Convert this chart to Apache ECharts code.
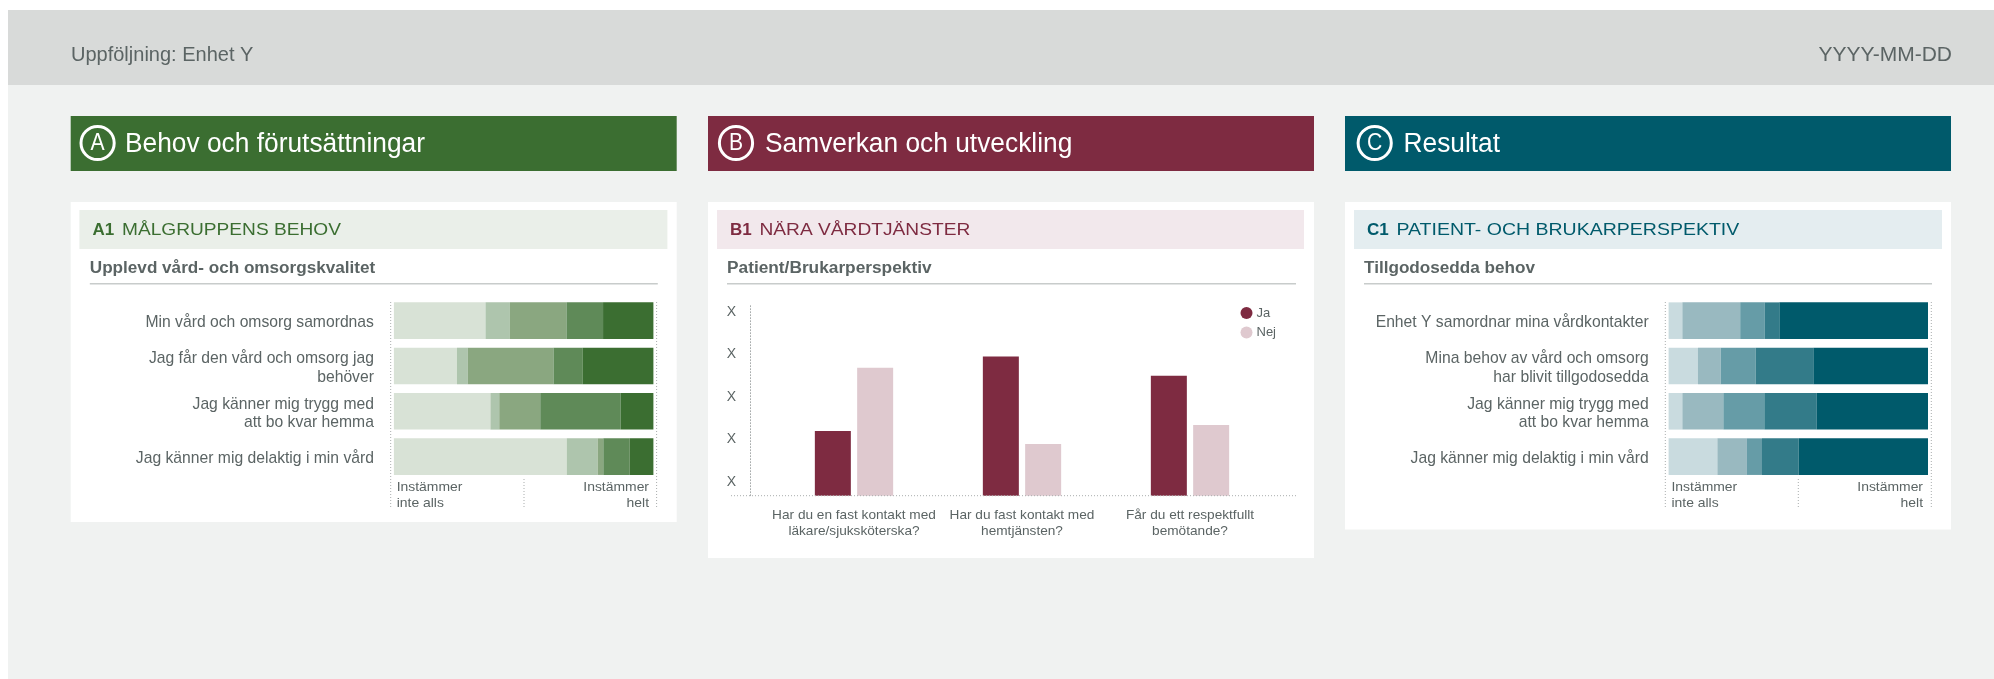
<!DOCTYPE html>
<html><head><meta charset="utf-8">
<style>html,body{margin:0;padding:0;background:#fff}#c{width:1994px;height:679px}</style>
<script src="https://cdn.jsdelivr.net/npm/echarts@6/dist/echarts.min.js"></script>
</head><body><div id="c"></div>
<script>
const aCategories = ['Min vård och omsorg samordnas','Jag får den vård och omsorg jag\nbehöver','Jag känner mig trygg med\natt bo kvar hemma','Jag känner mig delaktig i min vård'];
const aSeries1 = [35.3,24.3,37.2,66.6];
const aSeries2 = [9.4,4.2,3.4,11.9];
const aSeries3 = [21.8,33.0,15.8,2.2];
const aSeries4 = [14.1,11.3,31.0,10.1];
const aSeries5 = [19.4,27.2,12.6,9.2];
const aColors = ['#d8e2d6','#aec5ad','#8aa780','#5f8a58','#3b6e31'];

const cCategories = ['Enhet Y samordnar mina vårdkontakter','Mina behov av vård och omsorg\nhar blivit tillgodosedda','Jag känner mig trygg med\natt bo kvar hemma','Jag känner mig delaktig i min vård'];
const cSeries1 = [5.3,11.3,5.3,18.8];
const cSeries2 = [22.3,8.8,15.8,11.4];
const cSeries3 = [9.5,13.5,15.8,5.8];
const cSeries4 = [5.6,22.2,20.1,14.1];
const cSeries5 = [57.3,44.2,43.0,49.9];
const cColors = ['#c9dbdf','#99b9c0','#669ca7','#337b89','#005a6b'];

const bCategories = ['Har du en fast kontakt med\nläkare/sjuksköterska?','Har du fast kontakt med\nhemtjänsten?','Får du ett respektfullt\nbemötande?'];
const bJa = [30.4,65.3,56.3];
const bNej = [60.1,24.3,33.2];
const bTickValues = [0,20,40,60,80];
const bTickLabels = ['X','X','X','X','X'];
const bColors = ['#7e2b41','#dfc9cf'];

const FONT = '"Liberation Sans", Arial, sans-serif';
const GREY = '#5b6464';
const DOT = '#a9adad';

function rect(x,y,w,h,fill,z){return {type:'rect',shape:{x,y,width:w,height:h},style:{fill},z:z||0,silent:true};}
function txt(x,y,text,size,fill,o){o=o||{};return {type:'text',x,y,scaleX:o.sx||1,z:5,silent:true,style:{text,fill,font:(o.w||'normal')+' '+size+'px '+FONT,textAlign:o.a||'left',textVerticalAlign:'middle',verticalAlign:'middle',align:o.a||'left'}};}
function vdot(x,y1,y2){return {type:'line',shape:{x1:x,y1,x2:x,y2},z:4,silent:true,style:{stroke:DOT,lineWidth:1,lineDash:[1,2]}};}
function hdot(x1,x2,y){return {type:'line',shape:{x1,y1:y,x2,y2:y},z:4,silent:true,style:{stroke:DOT,lineWidth:1,lineDash:[1,2]}};}

const g = [
  rect(8,10,1986,669,'#f0f2f1'),
  rect(8,10,1986,75,'#d8dad9',1),
  txt(71,55,'Uppföljning: Enhet Y',20,GREY),
  txt(1952,55,'YYYY-MM-DD',21,GREY,{a:'right'}),
];
function panel(o){
  g.push(rect(o.x,116,o.w,55,o.col,1));
  g.push({type:'circle',shape:{cx:o.cx,cy:143,r:16.6},z:5,silent:true,style:{fill:'none',stroke:'#fff',lineWidth:3}});
  g.push(txt(o.cx,144,o.letter,23,'#fff',{a:'center',sx:0.92}));
  g.push(txt(o.tx,144.5,o.title,27,'#fff',{sx:0.975}));
  g.push(rect(o.x,202,o.w,o.cardB-202,'#fff',1));
  g.push(rect(o.hx,210,o.hw,39,o.light,2));
  g.push(txt(o.hx+13,230,o.code,17,o.col,{w:'bold'}));
  g.push(txt(o.ht,230,o.head,17,o.col,{sx:o.hs}));
  g.push(txt(o.sx,269,o.sub,16,GREY,{w:'bold',sx:o.ss}));
  g.push(rect(o.sx,283,o.lw,1.6,'#c8cccb',2));
}
panel({x:70.7,w:606,cardB:522,col:'#3b6e31',light:'#eaefe9',cx:97.6,tx:125,letter:'A',title:'Behov och förutsättningar',hx:79.4,hw:588,code:'A1',ht:122,head:'MÅLGRUPPENS BEHOV',hs:1.125,sx:89.8,sub:'Upplevd vård- och omsorgskvalitet',ss:1.07,lw:568});
panel({x:708,w:606,cardB:558,col:'#7e2b41',light:'#f2e8ec',cx:736,tx:765,letter:'B',title:'Samverkan och utveckling',hx:717,hw:587,code:'B1',ht:759.5,head:'NÄRA VÅRDTJÄNSTER',hs:1.127,sx:727,sub:'Patient/Brukarperspektiv',ss:1.08,lw:569});
panel({x:1345,w:606,cardB:529.5,col:'#005a6b',light:'#e4edf0',cx:1374.7,tx:1403.5,letter:'C',title:'Resultat',hx:1354,hw:588,code:'C1',ht:1396.5,head:'PATIENT- OCH BRUKARPERSPEKTIV',hs:1.147,sx:1364,sub:'Tillgodosedda behov',ss:1.07,lw:568});

function scaleMarks(l,m,r,tl,tr){
  g.push(vdot(l,302,508),vdot(r,302,508),vdot(m,479,508));
  g.push(txt(tl,487,'Instämmer',13,GREY,{sx:1.07}));
  g.push(txt(tl,503,'inte alls',13,GREY,{sx:1.07}));
  g.push(txt(tr,487,'Instämmer',13,GREY,{a:'right',sx:1.07}));
  g.push(txt(tr,503,'helt',13,GREY,{a:'right',sx:1.07}));
}
scaleMarks(390.7,524,656.6,396.7,649);
scaleMarks(1665.3,1798.3,1931.3,1671.5,1923);
g.push(hdot(731,1296,495.7));

function stacked(i,vals,cols){return vals.map((d,k)=>({type:'bar',stack:'s'+i,xAxisIndex:i,yAxisIndex:i,data:d,barWidth:36.6,itemStyle:{color:cols[k]},silent:true,z:3}));}
const hx=(i)=>({type:'value',gridIndex:i,min:0,max:100,show:false});
const barY=(i,c)=>({type:'category',gridIndex:i,data:c,inverse:true,axisLine:{show:false},axisTick:{show:false},axisLabel:{show:false}});
const labelY=(i,c)=>({type:'category',gridIndex:i,data:c,inverse:true,z:6,axisLine:{show:false},axisTick:{show:false},
  axisLabel:{margin:20,color:GREY,fontSize:15.7,lineHeight:18.7,fontFamily:FONT,align:'right'}});

const option = {
  animation:false,
  textStyle:{fontFamily:FONT},
  graphic:{elements:g},
  grid:[
    {left:393.9,top:298,width:259.5,height:181.3},
    {left:1668.6,top:298,width:259.4,height:181.3},
    {left:770,top:305,width:504,height:190.7},
    {left:393.9,top:300.5,width:259.5,height:181.3},
    {left:1668.6,top:300.5,width:259.4,height:181.3}
  ],
  xAxis:[hx(0),hx(1),
    {type:'category',gridIndex:2,data:bCategories,z:6,axisLine:{show:false},axisTick:{show:false},
     axisLabel:{margin:12,color:GREY,fontSize:13.65,lineHeight:16,fontFamily:FONT,interval:0}},
    hx(3),hx(4)],
  yAxis:[barY(0,aCategories),barY(1,cCategories),
    {type:'value',gridIndex:2,min:0,max:89.5,offset:20,z:6,splitLine:{show:false},axisTick:{show:false},
     axisLine:{show:true,lineStyle:{color:DOT,type:[1,2],width:1}},
     axisLabel:{customValues:bTickValues,formatter:(v)=>bTickLabels[bTickValues.indexOf(v)],color:GREY,fontSize:14,margin:14,
       verticalAlign:'bottom',lineHeight:27,fontFamily:FONT}},
    labelY(3,aCategories),labelY(4,cCategories)],
  legend:{show:true,left:1235.5,top:301.5,z:6,orient:'vertical',icon:'circle',itemWidth:12,itemHeight:12,itemGap:6.5,
    selectedMode:false,data:['Ja','Nej'],textStyle:{color:GREY,fontSize:13,fontFamily:FONT,padding:[0,0,0,-1]}},
  series:[
    ...stacked(0,[aSeries1,aSeries2,aSeries3,aSeries4,aSeries5],aColors),
    ...stacked(1,[cSeries1,cSeries2,cSeries3,cSeries4,cSeries5],cColors),
    {type:'bar',name:'Ja',xAxisIndex:2,yAxisIndex:2,data:bJa,barWidth:36,barGap:'17.5%',itemStyle:{color:bColors[0]},silent:true,z:3},
    {type:'bar',name:'Nej',xAxisIndex:2,yAxisIndex:2,data:bNej,barWidth:36,barGap:'17.5%',itemStyle:{color:bColors[1]},silent:true,z:3}
  ]
};
echarts.init(document.getElementById('c')).setOption(option);
</script></body></html>
